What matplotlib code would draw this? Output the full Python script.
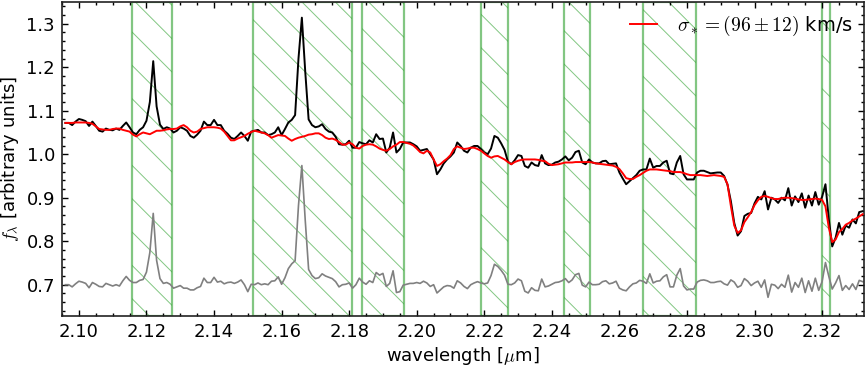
import numpy as np
import matplotlib
matplotlib.use("Agg")
import matplotlib.pyplot as plt
from matplotlib.ticker import MultipleLocator, FormatStrFormatter

# ---- data ----
wave_start, wave_step, n_pts = 2.096, 0.001, 237
wavelength = np.round(wave_start + wave_step * np.arange(n_pts), 4)

spectrum = [
    1.072, 1.072, 1.067, 1.075, 1.081, 1.079, 1.076, 1.065, 1.075, 1.065,
    1.054, 1.052, 1.059, 1.056, 1.055, 1.059, 1.056, 1.065, 1.073, 1.062,
    1.050, 1.046, 1.056, 1.062, 1.077, 1.120, 1.214, 1.110, 1.068, 1.058,
    1.062, 1.059, 1.050, 1.054, 1.062, 1.059, 1.054, 1.042, 1.038, 1.045,
    1.054, 1.075, 1.067, 1.067, 1.079, 1.067, 1.067, 1.054, 1.047, 1.038,
    1.035, 1.042, 1.050, 1.042, 1.031, 1.052, 1.054, 1.056, 1.050, 1.050,
    1.044, 1.046, 1.050, 1.062, 1.044, 1.058, 1.073, 1.079, 1.090, 1.220,
    1.314, 1.190, 1.080, 1.067, 1.062, 1.064, 1.069, 1.058, 1.052, 1.050,
    1.040, 1.023, 1.022, 1.023, 1.031, 1.015, 1.015, 1.028, 1.025, 1.023,
    1.032, 1.027, 1.046, 1.035, 1.036, 1.004, 1.015, 1.050, 1.004, 1.012,
    1.027, 1.027, 1.027, 1.023, 1.018, 1.008, 1.010, 1.012, 1.000, 0.988,
    0.954, 0.965, 0.979, 0.988, 0.995, 1.004, 1.027, 1.019, 1.008, 1.004,
    1.015, 1.019, 1.019, 1.012, 1.004, 1.000, 1.013, 1.042, 1.038, 1.025,
    1.010, 0.983, 0.977, 0.986, 0.998, 0.996, 0.973, 0.969, 0.981, 0.975,
    0.973, 0.998, 0.979, 0.975, 0.976, 0.981, 0.983, 0.988, 0.995, 0.986,
    0.992, 1.005, 1.008, 0.981, 0.977, 0.988, 0.981, 0.979, 0.979, 0.984,
    0.985, 0.977, 0.978, 0.979, 0.958, 0.944, 0.931, 0.938, 0.945, 0.952,
    0.962, 0.965, 0.965, 0.990, 0.969, 0.973, 0.973, 0.981, 0.985, 0.956,
    0.954, 0.981, 0.996, 0.954, 0.942, 0.942, 0.942, 0.958, 0.962, 0.962,
    0.959, 0.956, 0.957, 0.958, 0.958, 0.950, 0.930, 0.892, 0.842, 0.813,
    0.823, 0.858, 0.863, 0.865, 0.887, 0.902, 0.896, 0.915, 0.873, 0.900,
    0.896, 0.888, 0.900, 0.894, 0.922, 0.882, 0.903, 0.890, 0.910, 0.877,
    0.905, 0.882, 0.913, 0.884, 0.902, 0.931, 0.850, 0.788, 0.808, 0.842,
    0.815, 0.836, 0.831, 0.850, 0.841, 0.867, 0.869,
]

model = [
    1.072, 1.072, 1.072, 1.073, 1.073, 1.073, 1.073, 1.072, 1.070, 1.064,
    1.058, 1.057, 1.056, 1.056, 1.058, 1.059, 1.059, 1.056, 1.054, 1.052,
    1.045, 1.041, 1.046, 1.050, 1.048, 1.046, 1.050, 1.054, 1.054, 1.055,
    1.057, 1.058, 1.058, 1.059, 1.064, 1.067, 1.062, 1.054, 1.050, 1.052,
    1.058, 1.060, 1.062, 1.062, 1.062, 1.061, 1.059, 1.052, 1.042, 1.032,
    1.032, 1.036, 1.039, 1.042, 1.047, 1.051, 1.054, 1.052, 1.050, 1.048,
    1.044, 1.038, 1.041, 1.044, 1.043, 1.042, 1.036, 1.031, 1.035, 1.038,
    1.040, 1.042, 1.045, 1.046, 1.048, 1.048, 1.044, 1.038, 1.035, 1.036,
    1.033, 1.028, 1.022, 1.022, 1.027, 1.023, 1.015, 1.013, 1.019, 1.022,
    1.023, 1.022, 1.018, 1.013, 1.010, 1.008, 1.012, 1.018, 1.022, 1.028,
    1.028, 1.026, 1.024, 1.020, 1.013, 1.005, 1.002, 1.008, 1.004, 0.988,
    0.973, 0.977, 0.984, 0.990, 0.998, 1.012, 1.018, 1.015, 1.012, 1.013,
    1.015, 1.015, 1.012, 1.008, 1.002, 0.996, 0.992, 0.995, 0.996, 0.992,
    0.988, 0.982, 0.977, 0.982, 0.985, 0.987, 0.988, 0.988, 0.988, 0.988,
    0.987, 0.985, 0.984, 0.978, 0.975, 0.976, 0.977, 0.979, 0.981, 0.981,
    0.981, 0.982, 0.982, 0.982, 0.982, 0.982, 0.981, 0.979, 0.978, 0.977,
    0.976, 0.975, 0.974, 0.971, 0.966, 0.956, 0.945, 0.943, 0.943, 0.948,
    0.952, 0.957, 0.962, 0.965, 0.965, 0.965, 0.964, 0.963, 0.962, 0.961,
    0.959, 0.959, 0.959, 0.957, 0.954, 0.952, 0.952, 0.952, 0.952, 0.951,
    0.950, 0.951, 0.952, 0.951, 0.950, 0.948, 0.931, 0.881, 0.836, 0.819,
    0.825, 0.844, 0.855, 0.867, 0.883, 0.894, 0.902, 0.904, 0.902, 0.899,
    0.897, 0.897, 0.899, 0.900, 0.900, 0.899, 0.898, 0.896, 0.895, 0.895,
    0.896, 0.897, 0.898, 0.897, 0.895, 0.880, 0.831, 0.798, 0.804, 0.821,
    0.828, 0.838, 0.842, 0.848, 0.852, 0.857, 0.862,
]

residual_offset = 0.70

# masked (excluded) wavelength ranges
mask_lo = [2.1158, 2.1514, 2.1838, 2.2190, 2.2436, 2.2670, 2.3200]
mask_hi = [2.1277, 2.1809, 2.1961, 2.2271, 2.2514, 2.2827, 2.3222]

legend_label = r"$\sigma_*=(96\pm12)$ km/s"

# ---- figure ----
plt.rcParams["mathtext.fontset"] = "cm"
plt.rcParams["font.family"] = ["DejaVu Sans"]
plt.rcParams["hatch.linewidth"] = 0.35
DPI = 200
fig = plt.figure(figsize=(865 / DPI, 372 / DPI), dpi=DPI)
ax = fig.add_axes([0.0717, 0.1505, 0.9275, 0.8441])

spec = np.array(spectrum)
mod = np.array(model)
resid = spec - mod + residual_offset

for lo, hi in zip(mask_lo, mask_hi):
    ax.axvspan(lo, hi, facecolor="none", edgecolor="#3fa83f", alpha=0.65,
               hatch="\\\\", linewidth=0.8, zorder=1)

ax.plot(wavelength, resid, color="#808080", lw=0.6, zorder=2)
ax.plot(wavelength, spec, color="black", lw=0.7, zorder=3)
ax.plot(wavelength, mod, color="red", lw=0.7, zorder=4, label=legend_label)

ax.set_xlim(2.095, 2.3325)
ax.set_ylim(0.628, 1.35)

ax.xaxis.set_major_locator(MultipleLocator(0.02))
ax.xaxis.set_minor_locator(MultipleLocator(0.005))
ax.xaxis.set_major_formatter(FormatStrFormatter("%.2f"))
ax.yaxis.set_major_locator(MultipleLocator(0.1))
ax.yaxis.set_minor_locator(MultipleLocator(0.02))
ax.yaxis.set_major_formatter(FormatStrFormatter("%.1f"))

fs = 6.5
ax.tick_params(which="both", direction="in", top=True, right=True,
               labelsize=fs, width=0.5, pad=2.5)
ax.tick_params(which="major", length=2.2)
ax.tick_params(which="minor", length=1.1)
for s in ax.spines.values():
    s.set_linewidth(0.6)
    s.set_color("#222222")

ax.set_xlabel(r"wavelength [$\mu$m]", fontsize=fs, labelpad=1.5)
ax.set_ylabel(r"$f_\lambda$ [arbitrary units]", fontsize=fs, labelpad=2)

ax.legend(loc="upper right", frameon=False, fontsize=7.0, handlelength=1.4,
          handletextpad=1.0, borderaxespad=0.2)

fig.savefig("out.png", dpi=DPI)
